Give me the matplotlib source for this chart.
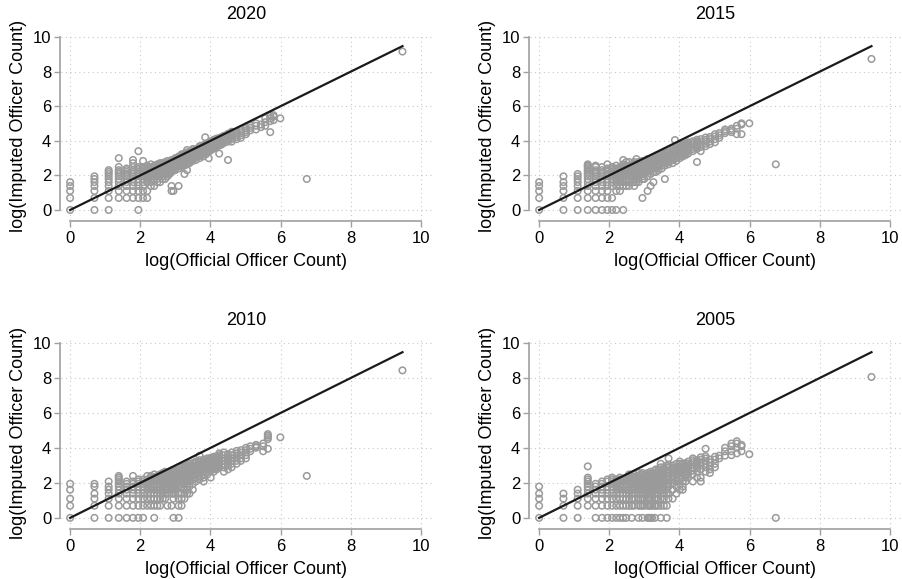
import numpy as np
import matplotlib
matplotlib.use("Agg")
import matplotlib.pyplot as plt

plt.rcParams['font.family'] = ['Liberation Sans', 'DejaVu Sans']

# official officer count -> imputed officer counts observed for that count
cols_2020 = {
    1: [1, 2, 3, 4, 5],
    2: [1, 2, 3, 4, 5, 6, 7],
    3: [1, 2, 3, 4, 5, 6, 7, 8, 9, 10],
    4: [2, 3, 4, 5, 6, 7, 8, 9, 10, 12, 20],
    5: [2, 3, 4, 5, 6, 7, 8, 9, 10, 11],
    6: [2, 3, 4, 5, 6, 7, 8, 9, 10, 12, 15, 18],
    7: [1, 2, 3, 4, 5, 6, 7, 8, 9, 10, 11, 12, 30],
    8: [2, 3, 4, 5, 6, 7, 8, 9, 10, 11, 12, 17],
    9: [2, 3, 5, 6, 7, 8, 9, 10, 11, 12, 13],
    10: [4, 5, 6, 7, 8, 9, 10, 11, 12, 14],
    11: [4, 6, 7, 8, 9, 10, 11, 12, 13],
    12: [5, 6, 7, 8, 9, 10, 11, 12, 13, 14],
    13: [5, 7, 8, 9, 10, 11, 12, 14, 15],
    14: [6, 7, 8, 9, 10, 11, 12, 13, 15],
    15: [6, 8, 9, 10, 11, 12, 13, 14, 16],
    16: [7, 8, 10, 11, 12, 13, 14, 15, 17],
    17: [8, 9, 10, 12, 13, 14, 15, 16],
    18: [3, 4, 9, 10, 12, 13, 14, 15, 17, 18],
    19: [3, 10, 11, 13, 14, 15, 16, 18],
    20: [10, 12, 13, 14, 15, 16, 17, 19, 20],
    22: [4, 11, 13, 14, 16, 17, 18, 20, 22],
    24: [12, 14, 15, 17, 18, 19, 21, 23, 25],
    26: [8, 13, 15, 17, 18, 20, 21, 23, 26],
    28: [10, 14, 16, 18, 19, 21, 23, 25, 28, 32],
    30: [15, 17, 19, 21, 22, 24, 26, 29],
    33: [17, 19, 21, 23, 25, 27, 29, 31, 34],
    36: [18, 21, 23, 25, 27, 29, 31, 34],
    40: [20, 23, 25, 28, 30, 32, 35, 38, 40],
    44: [22, 25, 28, 31, 33, 36, 39, 42],
    47: [67],
    48: [25, 28, 31, 34, 37, 40, 43, 46],
    52: [20, 29, 33, 36, 40, 43, 46, 50],
    56: [32, 36, 39, 43, 46, 50, 54],
    60: [35, 38, 42, 46, 50, 54, 58],
    65: [38, 42, 46, 50, 54, 58, 62],
    70: [26, 42, 46, 50, 55, 60, 64],
    75: [44, 50, 54, 58, 63, 68],
    80: [48, 53, 58, 63, 68, 73],
    90: [18, 52, 58, 64, 70, 76, 82],
    100: [52, 60, 66, 72, 78, 85, 92],
    115: [60, 68, 75, 83, 90],
    130: [65, 75, 85, 95, 105],
    150: [80, 90, 100, 112],
    170: [100, 115, 130],
    200: [105, 130, 150],
    230: [120, 140],
    260: [130, 160, 200],
    300: [90, 170, 200, 230],
    330: [180, 220, 240],
    400: [200],
    850: [6],
    13000: [9500],
}

cols_2015 = {
    1: [1, 2, 3, 4, 5],
    2: [1, 2, 3, 4, 5, 7],
    3: [1, 2, 3, 4, 5, 6, 7, 8],
    4: [1, 2, 3, 4, 5, 6, 7, 8, 9, 10, 11, 12, 13, 14],
    5: [1, 2, 3, 4, 5, 6, 7, 8, 9, 10, 12, 13],
    6: [1, 2, 3, 4, 5, 6, 7, 8, 9, 10, 12],
    7: [1, 2, 3, 4, 5, 6, 7, 8, 9, 10, 11, 14],
    8: [1, 2, 4, 5, 6, 7, 8, 9, 10, 11, 12],
    9: [1, 3, 4, 5, 6, 7, 8, 9, 10, 11, 13],
    10: [3, 4, 5, 6, 7, 8, 9, 10, 11, 12],
    11: [1, 4, 5, 6, 7, 8, 9, 10, 12, 14, 18],
    12: [4, 5, 6, 7, 8, 9, 10, 11, 12, 13, 16],
    13: [4, 5, 6, 7, 8, 9, 10, 11, 13, 16],
    15: [4, 5, 6, 8, 9, 10, 11, 12, 14, 16],
    16: [5, 6, 7, 8, 9, 10, 11, 12, 13, 15, 19],
    17: [5, 6, 8, 9, 10, 11, 12, 13, 14, 16],
    19: [2, 6, 7, 8, 9, 10, 11, 12, 14, 15, 17],
    20: [6, 8, 9, 10, 11, 12, 13, 14, 16, 17],
    22: [3, 7, 9, 10, 11, 12, 14, 15, 17, 19],
    24: [4, 8, 10, 11, 13, 14, 15, 17, 19],
    26: [5, 9, 11, 12, 14, 15, 17, 18, 21],
    28: [9, 11, 13, 14, 16, 17, 19, 21, 23],
    30: [10, 12, 14, 15, 17, 19, 21, 23],
    33: [11, 13, 15, 17, 18, 20, 22, 24, 26],
    36: [6, 13, 15, 17, 19, 21, 23, 26, 28],
    40: [14, 16, 18, 20, 22, 24, 27, 30],
    45: [15, 18, 20, 22, 25, 28, 31, 34],
    48: [57],
    50: [17, 20, 23, 25, 28, 31, 34, 38],
    55: [20, 23, 26, 29, 32, 35, 38, 42],
    60: [22, 25, 28, 31, 34, 37, 40, 44],
    65: [24, 27, 31, 34, 38, 42, 46],
    70: [26, 30, 34, 38, 42, 46, 50],
    80: [30, 34, 38, 43, 48, 53],
    90: [16, 34, 38, 43, 48, 53, 58],
    100: [30, 38, 45, 52, 60],
    115: [40, 46, 52, 58, 66],
    130: [45, 52, 60, 68],
    150: [50, 60, 70, 80],
    170: [65, 75, 85],
    200: [85, 95, 105],
    240: [90, 100, 110],
    280: [80, 110, 130],
    320: [80, 140, 150],
    400: [150],
    850: [14],
    13000: [6200],
}

cols_2010 = {
    1: [1, 2, 3, 5, 7],
    2: [1, 2, 3, 4, 6, 7],
    3: [1, 2, 3, 4, 5, 6, 8],
    4: [1, 2, 3, 4, 5, 6, 7, 8, 9, 10, 11],
    5: [1, 2, 3, 4, 5, 6, 7, 8],
    6: [1, 2, 3, 4, 5, 6, 7, 8, 11],
    7: [1, 2, 3, 4, 5, 6, 7, 8, 9],
    8: [1, 2, 3, 4, 5, 6, 7, 8, 9],
    9: [2, 3, 4, 5, 6, 7, 8, 9, 11],
    10: [2, 3, 4, 5, 6, 7, 8, 9, 10, 11],
    11: [1, 2, 3, 4, 5, 6, 7, 8, 9, 10, 12],
    12: [2, 3, 4, 5, 6, 7, 8, 9, 10, 11],
    13: [2, 3, 4, 5, 6, 7, 8, 9, 10, 12],
    14: [3, 4, 5, 6, 7, 8, 9, 10, 11, 13],
    15: [3, 4, 5, 6, 7, 8, 9, 10, 12, 14],
    16: [2, 4, 5, 6, 7, 8, 9, 10, 11, 13],
    18: [2, 4, 5, 6, 7, 8, 9, 10, 12, 14, 15],
    19: [1, 3, 4, 5, 6, 7, 8, 9, 11, 13, 15],
    20: [4, 5, 6, 7, 8, 9, 10, 12, 14, 16],
    22: [1, 2, 3, 4, 6, 7, 8, 9, 10, 11, 13, 15, 18],
    24: [2, 3, 4, 6, 7, 8, 9, 10, 12, 14, 16, 18],
    26: [3, 4, 5, 7, 8, 9, 11, 13, 15, 17, 19],
    28: [4, 5, 6, 7, 9, 10, 12, 14, 16, 18, 20],
    30: [4, 6, 8, 10, 11, 13, 15, 17, 19, 22],
    33: [5, 7, 9, 11, 12, 14, 16, 18, 20, 23],
    36: [8, 10, 12, 14, 16, 18, 20, 23, 25],
    40: [9, 11, 13, 15, 17, 19, 21, 24, 27, 35],
    45: [8, 10, 12, 14, 16, 18, 20, 22, 25, 28],
    50: [12, 14, 16, 18, 20, 22, 24, 27, 30],
    55: [10, 15, 17, 19, 21, 23, 25, 28, 31],
    60: [14, 16, 18, 20, 22, 24, 27, 30, 33],
    65: [16, 18, 20, 22, 24, 27, 30, 33],
    70: [18, 20, 22, 24, 27, 30, 33, 36, 40],
    80: [14, 18, 22, 26, 30, 36, 42],
    90: [16, 20, 24, 28, 32, 38],
    100: [18, 22, 26, 30, 36, 42],
    115: [22, 26, 30, 35, 40, 46],
    130: [26, 30, 36, 42, 48],
    150: [30, 36, 42, 48, 55],
    170: [45, 52, 60],
    200: [55, 60, 65],
    245: [45, 60, 70],
    280: [52, 90, 100, 110, 120],
    400: [100],
    850: [11],
    13000: [4600],
}

cols_2005 = {
    1: [1, 2, 3, 4, 6],
    2: [1, 2, 3, 4],
    3: [1, 2, 3, 4, 5],
    4: [2, 3, 4, 5, 6, 7, 8, 9, 10, 19],
    5: [1, 2, 3, 4, 5, 6, 7],
    6: [1, 2, 3, 4, 5, 6, 7, 8],
    7: [1, 2, 3, 4, 5, 6, 8, 9],
    8: [1, 2, 3, 4, 5, 6, 7, 8, 9, 10],
    9: [1, 2, 3, 4, 5, 6, 7, 8, 9],
    10: [1, 2, 3, 4, 5, 6, 7, 8, 9, 10],
    11: [1, 2, 3, 4, 5, 6, 7, 8, 9],
    12: [1, 2, 3, 4, 5, 6, 7, 8, 9, 10],
    13: [2, 3, 4, 5, 6, 7, 8, 9, 10, 12],
    14: [1, 2, 3, 4, 5, 6, 7, 8, 9, 10, 11],
    15: [2, 3, 4, 5, 6, 7, 8, 9, 10, 12],
    17: [1, 2, 3, 4, 5, 6, 7, 8, 9, 10, 11, 13],
    18: [2, 3, 4, 5, 6, 7, 8, 9, 10, 12],
    19: [1, 2, 3, 4, 5, 6, 7, 8, 9, 11, 13],
    20: [2, 3, 4, 5, 6, 7, 8, 9, 10, 12],
    22: [1, 2, 3, 4, 5, 6, 7, 8, 9, 10, 11, 13],
    23: [1, 2, 3, 4, 5, 6, 7, 8, 9, 10, 12],
    24: [1, 2, 3, 4, 5, 6, 7, 8, 9, 10, 12, 14],
    25: [1, 2, 3, 4, 5, 6, 7, 8, 9, 11, 13],
    27: [1, 2, 3, 4, 5, 6, 7, 8, 10, 12, 15],
    28: [2, 3, 4, 5, 6, 7, 8, 9, 11, 13, 16],
    30: [2, 3, 4, 5, 6, 7, 8, 10, 12, 14, 16],
    32: [1, 2, 3, 5, 6, 7, 8, 10, 12, 14, 18, 22],
    35: [2, 3, 4, 5, 6, 7, 9, 11, 13, 15, 18],
    38: [1, 2, 4, 5, 6, 7, 9, 11, 13, 15, 18, 20],
    40: [3, 4, 6, 7, 9, 11, 13, 15, 18, 21, 30],
    45: [3, 5, 7, 9, 11, 13, 15, 17, 20],
    50: [4, 6, 8, 10, 12, 14, 16, 18, 22],
    55: [5, 7, 9, 11, 13, 15, 17, 19, 22, 25],
    60: [5, 6, 8, 10, 13, 16, 19, 22],
    65: [8, 10, 12, 14, 17, 20, 23],
    70: [10, 12, 14, 16, 19, 22, 25],
    80: [8, 12, 15, 18, 21, 24, 27, 30],
    90: [10, 14, 17, 20, 24, 27],
    100: [8, 10, 16, 20, 24, 28, 32],
    115: [14, 18, 22, 26, 30, 34, 52],
    130: [13, 16, 20, 24, 28],
    150: [18, 22, 28, 33],
    170: [30, 35],
    200: [35, 45, 55],
    240: [36, 45, 60, 70],
    280: [40, 55, 70, 80],
    320: [45, 60, 65],
    400: [38],
    850: [1],
    13000: [3150],
}

years = ["2020", "2015", "2010", "2005"]
panels = [cols_2020, cols_2015, cols_2010, cols_2005]

W, H = 902, 579
fig = plt.figure(figsize=(W / 100, H / 100), dpi=100)

# axes boxes in pixels: left, top, right, bottom
boxes = [
    (61, 32.7, 431.5, 220),
    (530, 32.7, 900.5, 220),
    (61, 338.6, 431.5, 528),
    (530, 338.6, 900.5, 528),
]

grey = "#9a9a9a"
for year, cols, (l, t, r, b) in zip(years, panels, boxes):
    ax = fig.add_axes([l / W, 1 - b / H, (r - l) / W, (b - t) / H])
    off = np.array([k for k, v in cols.items() for _ in v], dtype=float)
    imp = np.array([m for v in cols.values() for m in v], dtype=float)
    x = np.log(off)
    y = np.log(imp)
    ax.scatter(x, y, s=22, facecolors="none", edgecolors=grey,
               linewidths=1.1, zorder=2)
    lim = x.max()
    ax.plot([0, lim], [0, lim], color="#1a1a1a", lw=1.6, zorder=3)

    ax.set_xlim(-0.26, 10.3)
    ax.set_ylim(-0.58, 10.25)
    ax.set_xticks(range(0, 11, 2))
    ax.set_yticks(range(0, 11, 2))
    ax.grid(True, color="#c8c8c8", linestyle=(0, (1, 3)), linewidth=0.8)
    ax.set_axisbelow(True)
    for s in ["top", "right"]:
        ax.spines[s].set_visible(False)
    ax.spines["left"].set_bounds(0, 10)
    ax.spines["bottom"].set_bounds(0, 10)
    for s in ["left", "bottom"]:
        ax.spines[s].set_color("#a0a0a0")
        ax.spines[s].set_linewidth(1.2)
    ax.spines["left"].set_position(("outward", 1))
    ax.spines["bottom"].set_position(("outward", 1))
    ax.tick_params(axis="both", colors="#a0a0a0", labelcolor="black",
                   length=4, width=1.0, labelsize=12)
    ax.tick_params(axis="x", pad=3)
    ax.tick_params(axis="y", pad=2)
    ax.set_xlabel("log(Official Officer Count)", fontsize=13, labelpad=5)
    ax.set_ylabel("log(Imputed Officer Count)", fontsize=13, labelpad=4)
    ax.set_title(year, fontsize=13, pad=10)

fig.savefig("out.png", dpi=100)
